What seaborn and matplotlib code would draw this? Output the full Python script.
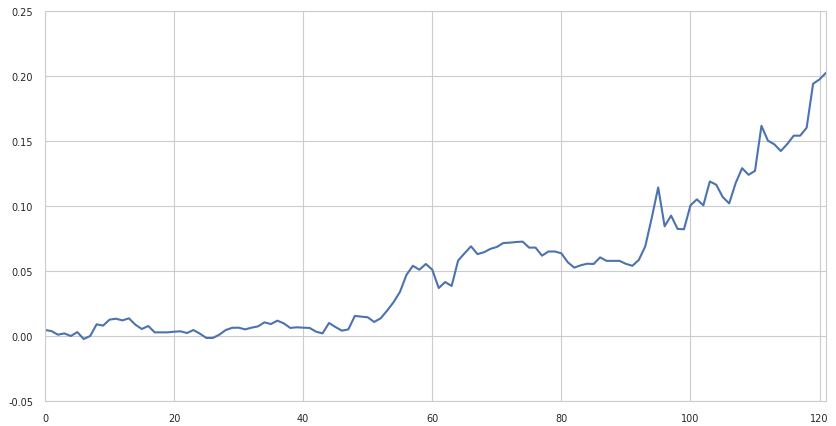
import numpy as np
import pandas as pd
import seaborn as sns
import matplotlib
matplotlib.use("Agg")
import matplotlib.pyplot as plt

# values, one per step
values = [
    0.0046, 0.0038, 0.0010, 0.0020, 0.0000, 0.0030, -0.0023, 0.0000, 0.0090, 0.0080,
    0.0126, 0.0133, 0.0120, 0.0136, 0.0087, 0.0054, 0.0077, 0.0028, 0.0028, 0.0028,
    0.0033, 0.0036, 0.0023, 0.0046, 0.0018, -0.0015, -0.0015, 0.0010, 0.0046, 0.0063,
    0.0064, 0.0051, 0.0064, 0.0074, 0.0105, 0.0092, 0.0118, 0.0097, 0.0062, 0.0067,
    0.0064, 0.0062, 0.0033, 0.0020, 0.0100, 0.0069, 0.0041, 0.0051, 0.0154, 0.0149,
    0.0144, 0.0108, 0.0136, 0.0195, 0.0260, 0.0340, 0.0470, 0.0540, 0.0510, 0.0554,
    0.0510, 0.0369, 0.0415, 0.0385, 0.0580, 0.0636, 0.0690, 0.0630, 0.0644, 0.0670,
    0.0685, 0.0715, 0.0718, 0.0723, 0.0726, 0.0680, 0.0680, 0.0618, 0.0650, 0.0650,
    0.0636, 0.0567, 0.0526, 0.0544, 0.0556, 0.0554, 0.0605, 0.0578, 0.0578, 0.0578,
    0.0555, 0.0540, 0.0585, 0.0690, 0.0908, 0.1143, 0.0844, 0.0926, 0.0824, 0.0821,
    0.1005, 0.1051, 0.1005, 0.1189, 0.1163, 0.1069, 0.1020, 0.1176, 0.1291, 0.1240,
    0.1270, 0.1617, 0.1503, 0.1474, 0.1423, 0.1477, 0.1541, 0.1541, 0.1602, 0.1940,
    0.1974, 0.2025,
]
steps = list(range(len(values)))

df = pd.DataFrame({"step": steps, "value": values})

sns.set_style("whitegrid")

fig = plt.figure(figsize=(8.36, 4.27), dpi=100)
ax = fig.add_axes([45 / 836, 25 / 427, 781 / 836, 390 / 427])

sns.lineplot(data=df, x="step", y="value", ax=ax, color="#4C72B0", linewidth=1.5)

ax.set_xlim(0, 121)
ax.set_ylim(-0.05, 0.25)
ax.set_xticks([0, 20, 40, 60, 80, 100, 120])
ax.set_yticks(np.arange(-0.05, 0.2501, 0.05))
ax.yaxis.set_major_formatter(matplotlib.ticker.FormatStrFormatter("%.2f"))
ax.tick_params(labelsize=7, colors=".15", pad=5)
ax.set_xlabel("")
ax.set_ylabel("")

fig.savefig("out.png", dpi=100)
